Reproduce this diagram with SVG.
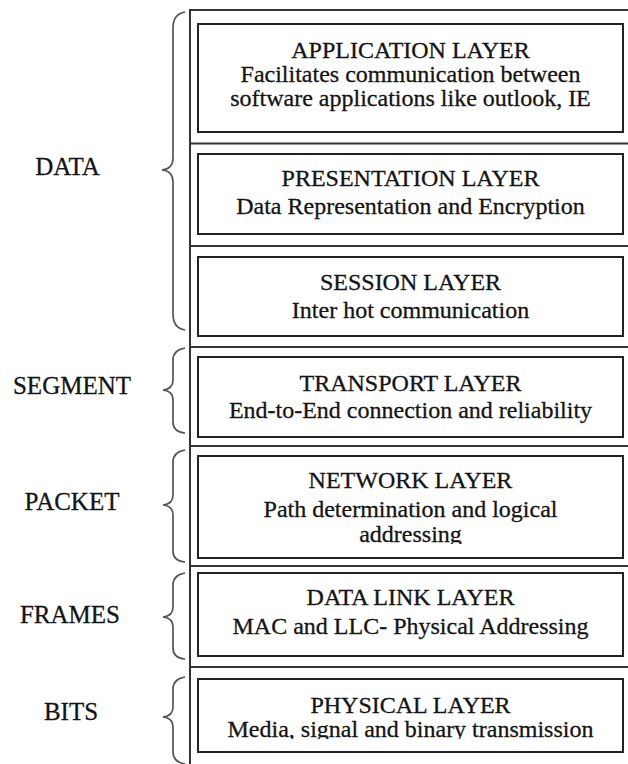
<svg xmlns="http://www.w3.org/2000/svg" width="628" height="764" viewBox="0 0 628 764" font-family="'Liberation Serif', 'DejaVu Serif', serif">
  <style>
    .frame { stroke: #333; stroke-width: 2; fill: none; }
    .box { stroke: #222; stroke-width: 2; fill: #fff; }
    .brace { stroke: #555; stroke-width: 1.7; fill: none; }
    text { font-family: 'Liberation Serif', 'DejaVu Serif', serif; fill: #141414; stroke: #141414; stroke-width: 0.3; text-anchor: middle; }
    .t { font-size: 24px; }
    .lbl { font-size: 25px; }
  </style>
  <defs>
    <clipPath id="clipNet"><rect x="198" y="456" width="425" height="88"/></clipPath>
    <clipPath id="clipPhy"><rect x="198" y="679" width="425" height="60"/></clipPath>
  </defs>
  <rect width="628" height="764" fill="#fff"/>

  <!-- outer stack frame and row separators -->
  <g id="connectors">
    <path class="frame" d="M190 764 V10 H628"/>
    <path class="frame" d="M190 143.5 H628 M190 246 H628 M190 347 H628 M190 446 H628 M190 566 H628 M190 667 H628"/>
    <!-- grouping braces -->
    <path class="brace" d="M185 12 Q173 14 173 28 V158 Q173 169 162 170 Q173 171 173 182 V314 Q173 328 185 330"/>
    <path class="brace" d="M185 348 Q173 350 173 360 V380 Q173 389 163 390 Q173 391 173 400 V422 Q173 432 185 433"/>
    <path class="brace" d="M185 450 Q173 452 173 462 V495 Q173 504 163 505 Q173 506 173 515 V551 Q173 561 185 562"/>
    <path class="brace" d="M185 573 Q173 575 173 585 V607 Q173 616 163 617 Q173 618 173 627 V648 Q173 658 185 659"/>
    <path class="brace" d="M185 677 Q173 679 173 689 V707 Q173 716 163 717 Q173 718 173 727 V752 Q173 762 185 764"/>
  </g>

  <!-- group labels -->
  <g id="label-data"><text class="lbl" x="67.5" y="175">DATA</text></g>
  <g id="label-segment"><text class="lbl" x="72" y="394">SEGMENT</text></g>
  <g id="label-packet"><text class="lbl" x="72" y="510">PACKET</text></g>
  <g id="label-frames"><text class="lbl" x="70" y="623">FRAMES</text></g>
  <g id="label-bits"><text class="lbl" x="71" y="720">BITS</text></g>

  <!-- OSI layers -->
  <g id="application">
    <rect class="box" x="198" y="24" width="425" height="108"/>
    <text class="t" x="410.5" y="57.5">APPLICATION LAYER</text>
    <text class="t" x="410.5" y="81.5">Facilitates communication  between</text>
    <text class="t" x="410.5" y="105.5">software applications like outlook, IE</text>
  </g>
  <g id="presentation">
    <rect class="box" x="198" y="154" width="425" height="80"/>
    <text class="t" x="410.5" y="186">PRESENTATION LAYER</text>
    <text class="t" x="410.5" y="214">Data Representation and Encryption</text>
  </g>
  <g id="session">
    <rect class="box" x="198" y="257" width="425" height="79"/>
    <text class="t" x="410.5" y="290">SESSION LAYER</text>
    <text class="t" x="410.5" y="318">Inter hot communication</text>
  </g>
  <g id="transport">
    <rect class="box" x="198" y="357" width="425" height="80"/>
    <text class="t" x="410.5" y="391">TRANSPORT LAYER</text>
    <text class="t" x="410.5" y="418">End-to-End connection and reliability</text>
  </g>
  <g id="network">
    <rect class="box" x="198" y="456" width="425" height="102"/>
    <text class="t" x="410.5" y="488">NETWORK LAYER</text>
    <text class="t" x="410.5" y="517">Path determination and logical</text>
    <text class="t" x="410.5" y="542" clip-path="url(#clipNet)">addressing</text>
  </g>
  <g id="datalink">
    <rect class="box" x="198" y="573" width="425" height="83"/>
    <text class="t" x="410.5" y="605">DATA LINK LAYER</text>
    <text class="t" x="410.5" y="634">MAC and LLC- Physical Addressing</text>
  </g>
  <g id="physical">
    <rect class="box" x="198" y="679" width="425" height="73"/>
    <text class="t" x="410.5" y="713">PHYSICAL LAYER</text>
    <text class="t" x="410.5" y="737" clip-path="url(#clipPhy)">Media, signal and binary transmission</text>
  </g>
</svg>
